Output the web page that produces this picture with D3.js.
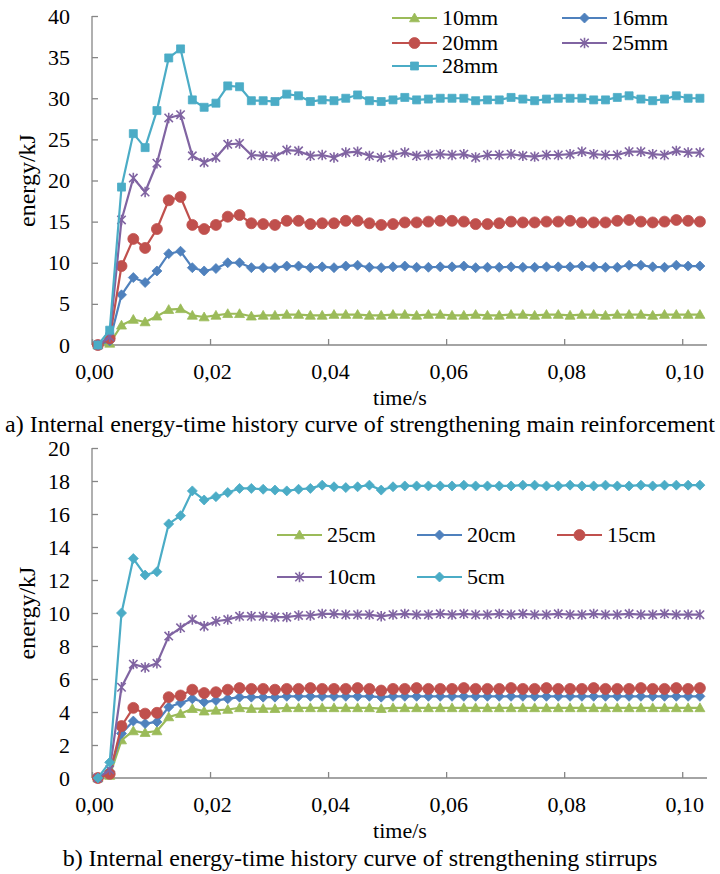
<!DOCTYPE html>
<html>
<head>
<meta charset="utf-8">
<script src="https://cdn.jsdelivr.net/npm/d3@7"></script>
<style>
  html, body { margin: 0; padding: 0; background: #fff; }
  svg { display: block; font-family: "Liberation Serif", "Times New Roman", serif; }
</style>
</head>
<body>
<svg id="chart" width="720" height="874"></svg>
<script>
// Sample times (s)
const time = [
  0.001, 0.003, 0.005, 0.007, 0.009, 0.011, 0.013, 0.015, 0.017, 0.019,
  0.021, 0.023, 0.025, 0.027, 0.029, 0.031, 0.033, 0.035, 0.037, 0.039,
  0.041, 0.043, 0.045, 0.047, 0.049, 0.051, 0.053, 0.055, 0.057, 0.059,
  0.061, 0.063, 0.065, 0.067, 0.069, 0.071, 0.073, 0.075, 0.077, 0.079,
  0.081, 0.083, 0.085, 0.087, 0.089, 0.091, 0.093, 0.095, 0.097, 0.099,
  0.101, 0.103
];

const xTickValues = [0, 0.02, 0.04, 0.06, 0.08, 0.10];
const xTickLabels = ["0,00", "0,02", "0,04", "0,06", "0,08", "0,10"];

// a) main reinforcement diameter — internal energy (kJ)
const mainNames = ["10mm", "16mm", "20mm", "25mm", "28mm"];
const main10 = [
  0, 0.2, 2.4, 3.1, 2.8, 3.5, 4.3, 4.4, 3.6, 3.4,
  3.6, 3.8, 3.8, 3.5, 3.6, 3.6, 3.7, 3.7, 3.6, 3.6,
  3.7, 3.7, 3.7, 3.6, 3.6, 3.7, 3.7, 3.6, 3.7, 3.7,
  3.6, 3.6, 3.7, 3.6, 3.6, 3.7, 3.7, 3.6, 3.7, 3.7,
  3.6, 3.7, 3.7, 3.6, 3.7, 3.7, 3.7, 3.6, 3.7, 3.7,
  3.7, 3.7
];
const main16 = [
  0, 0.5, 6.1, 8.2, 7.6, 9.0, 11.1, 11.4, 9.4, 9.0,
  9.3, 10.0, 10.0, 9.4, 9.4, 9.4, 9.6, 9.6, 9.4, 9.5,
  9.4, 9.6, 9.7, 9.45, 9.4, 9.5, 9.6, 9.45, 9.45, 9.5,
  9.5, 9.6, 9.4, 9.45, 9.45, 9.5, 9.45, 9.45, 9.5, 9.5,
  9.5, 9.6, 9.5, 9.45, 9.45, 9.7, 9.7, 9.5, 9.45, 9.7,
  9.6, 9.6
];
const main20 = [
  0, 0.8, 9.6, 12.9, 11.8, 14.1, 17.6, 18.0, 14.6, 14.1,
  14.6, 15.6, 15.8, 14.8, 14.7, 14.6, 15.1, 15.1, 14.7, 14.8,
  14.8, 15.1, 15.1, 14.8, 14.6, 14.7, 14.9, 14.9, 15.0, 15.1,
  15.1, 15.0, 14.7, 14.7, 14.8, 15.0, 14.9, 14.9, 15.0, 15.0,
  15.1, 14.9, 14.9, 14.9, 15.1, 15.2, 15.0, 14.9, 15.0, 15.2,
  15.1, 15.0
];
const main25 = [
  0, 1.0, 15.2, 20.3, 18.6, 22.1, 27.6, 28.0, 23.0, 22.2,
  22.8, 24.4, 24.5, 23.1, 23.0, 22.9, 23.7, 23.6, 23.0, 23.1,
  22.8, 23.4, 23.5, 23.0, 22.8, 23.1, 23.4, 23.0, 23.1, 23.2,
  23.1, 23.2, 22.8, 23.1, 23.1, 23.2, 23.0, 22.9, 23.1, 23.1,
  23.2, 23.5, 23.2, 23.1, 23.1, 23.5, 23.5, 23.2, 23.1, 23.6,
  23.4, 23.4
];
const main28 = [
  0, 1.8, 19.2, 25.7, 24.0, 28.5, 34.9, 36.0, 29.8, 28.9,
  29.4, 31.5, 31.4, 29.7, 29.7, 29.6, 30.5, 30.3, 29.6, 29.8,
  29.7, 30.0, 30.4, 29.7, 29.6, 29.8, 30.1, 29.8, 29.9, 30.0,
  30.0, 30.0, 29.7, 29.8, 29.8, 30.1, 29.9, 29.7, 29.9, 30.0,
  30.0, 30.0, 29.8, 29.8, 30.1, 30.3, 29.9, 29.7, 29.9, 30.3,
  30.0, 30.0
];

// b) stirrup spacing — internal energy (kJ)
const stirrupNames = ["25cm", "20cm", "15cm", "10cm", "5cm"];
const stir25 = [
  0, 0.15, 2.3, 2.85, 2.75, 2.85, 3.7, 3.9, 4.2, 4.05,
  4.1, 4.15, 4.25, 4.2, 4.2, 4.2, 4.25, 4.25, 4.25, 4.25,
  4.25, 4.25, 4.25, 4.25, 4.2, 4.25, 4.25, 4.25, 4.25, 4.25,
  4.25, 4.25, 4.25, 4.25, 4.25, 4.25, 4.25, 4.25, 4.25, 4.25,
  4.25, 4.25, 4.25, 4.25, 4.25, 4.25, 4.25, 4.25, 4.25, 4.25,
  4.25, 4.25
];
const stir20 = [
  0, 0.4, 2.7, 3.45, 3.3, 3.4, 4.3, 4.55, 4.8, 4.6,
  4.7, 4.8, 4.9, 4.9, 4.9, 4.9, 4.95, 4.95, 4.95, 4.95,
  4.95, 4.95, 4.95, 4.95, 4.9, 4.95, 4.95, 4.95, 4.95, 4.95,
  4.95, 4.95, 4.95, 4.95, 4.95, 4.95, 4.95, 4.95, 4.95, 4.95,
  4.95, 4.95, 4.95, 4.95, 4.95, 4.95, 4.95, 4.95, 4.95, 4.95,
  4.95, 4.95
];
const stir15 = [
  0, 0.25, 3.15, 4.25, 3.9, 3.95, 4.9, 5.0, 5.35, 5.15,
  5.2, 5.35, 5.45, 5.4, 5.4, 5.35, 5.4, 5.4, 5.45, 5.4,
  5.4, 5.4, 5.45, 5.4, 5.3, 5.4, 5.4, 5.45, 5.4, 5.4,
  5.4, 5.45, 5.4, 5.4, 5.4, 5.45, 5.4, 5.4, 5.45, 5.4,
  5.4, 5.4, 5.45, 5.4, 5.4, 5.4, 5.45, 5.4, 5.4, 5.45,
  5.4, 5.45
];
const stir10 = [
  0, 0.5, 5.5, 6.9, 6.7, 6.95, 8.6, 9.1, 9.6, 9.2,
  9.5, 9.6, 9.8, 9.8, 9.8, 9.75, 9.75, 9.85, 9.85, 9.95,
  9.95, 9.9, 9.9, 9.9, 9.8, 9.9, 9.95, 9.9, 9.9, 9.95,
  9.9, 9.95, 9.9, 9.9, 9.95, 9.9, 9.95, 9.9, 9.9, 9.95,
  9.9, 9.9, 9.95, 9.9, 9.9, 9.95, 9.9, 9.9, 9.95, 9.9,
  9.9, 9.9
];
const stir5 = [
  0, 0.95, 10.0, 13.3, 12.3, 12.5, 15.4, 15.9, 17.4, 16.85,
  17.05, 17.3, 17.55, 17.55, 17.5, 17.45, 17.4, 17.5, 17.55, 17.75,
  17.65, 17.6, 17.65, 17.75, 17.45, 17.65, 17.7, 17.7, 17.7, 17.7,
  17.7, 17.75, 17.7, 17.7, 17.7, 17.7, 17.75, 17.75, 17.7, 17.7,
  17.75, 17.7, 17.7, 17.75, 17.7, 17.7, 17.75, 17.7, 17.75, 17.75,
  17.75, 17.75
];

const COLORS = {
  green: "#9BBB59", blue: "#4F81BD", red: "#C0504D",
  purple: "#8064A2", cyan: "#4BACC6", axis: "#868686"
};

// Marker shapes as path strings centred on the origin
const MARKERS = {
  triangle: "M0,-5L5,3.8L-5,3.8Z",
  diamond: "M0,-5L5,0L0,5L-5,0Z",
  circle: d3.symbol(d3.symbolCircle, 95)(),
  square: "M-4,-4H4V4H-4Z",
  star: "M0,-5.2V5.2M-4.2,-4.2L4.2,4.2M-4.2,4.2L4.2,-4.2"
};

const svg = d3.select("#chart");
const FONT = 22;
const xScale = d3.scaleLinear().domain([0, 0.1042]).range([92, 707]);

function drawMarker(g, shape, color, cx, cy) {
  const p = g.append("path")
    .attr("d", MARKERS[shape])
    .attr("transform", `translate(${cx},${cy})`);
  if (shape === "star") {
    p.attr("fill", "none").attr("stroke", color).attr("stroke-width", 1.6);
  } else {
    p.attr("fill", color).attr("stroke", color).attr("stroke-width", 0.8);
  }
}

function drawPanel(cfg) {
  const g = svg.append("g");
  const y = d3.scaleLinear().domain(cfg.yDomain).range([cfg.bottom, cfg.top]);

  // y axis (ticks point into the plot)
  const yAxis = g.append("g")
    .attr("transform", `translate(${xScale(0)},0)`)
    .call(d3.axisLeft(y).tickValues(cfg.yTicks).tickSize(-6).tickSizeOuter(0).tickPadding(22));
  // x axis
  const xAxis = g.append("g")
    .attr("transform", `translate(0,${y(0)})`)
    .call(d3.axisBottom(xScale).tickValues(xTickValues)
      .tickFormat((d, i) => xTickLabels[i]).tickSize(-6).tickSizeOuter(0).tickPadding(18));

  [yAxis, xAxis].forEach(a => {
    a.select(".domain").attr("stroke", COLORS.axis).attr("stroke-width", 1.3);
    a.selectAll(".tick line").attr("stroke", COLORS.axis).attr("stroke-width", 1.3);
    a.selectAll("text").attr("fill", "#000")
      .style("font-size", FONT + "px").style("font-family", "Liberation Serif, Times New Roman, serif");
  });
  xAxis.selectAll(".tick text").attr("dx", 2);
  // axis lines span the full range
  xAxis.select(".domain").attr("d", `M${xScale.range()[0]},0H${xScale.range()[1]}`);
  yAxis.select(".domain").attr("d", `M0,${cfg.bottom}V${cfg.top}`);

  // axis titles
  g.append("text")
    .attr("transform", `translate(${cfg.yTitleX},${(cfg.top + cfg.bottom) / 2}) rotate(-90)`)
    .attr("text-anchor", "middle")
    .attr("dy", "0.35em")
    .style("font-size", "24px")
    .text("energy/kJ");
  g.append("text")
    .attr("x", 400).attr("y", cfg.bottom + 60)
    .attr("text-anchor", "middle")
    .style("font-size", FONT + "px")
    .text("time/s");

  // series
  const line = d3.line().x((d, i) => xScale(time[i])).y(d => y(d));
  cfg.series.forEach(s => {
    const sg = g.append("g");
    sg.append("path")
      .attr("d", line(s.values))
      .attr("fill", "none")
      .attr("stroke", s.color)
      .attr("stroke-width", 2.2)
      .attr("stroke-linejoin", "round");
    s.values.forEach((v, i) => drawMarker(sg, s.shape, s.color, xScale(time[i]), y(v)));
  });

  // legend
  cfg.series.forEach((s, i) => {
    const [lx, ly] = cfg.legendPos[i];
    const lg = g.append("g");
    lg.append("line")
      .attr("x1", lx).attr("x2", lx + 45).attr("y1", ly).attr("y2", ly)
      .attr("stroke", s.color).attr("stroke-width", 2.2);
    drawMarker(lg, s.shape, s.color, lx + 22.5, ly);
    lg.append("text")
      .attr("x", lx + 50).attr("y", ly).attr("dy", "0.33em")
      .style("font-size", FONT + "px")
      .text(s.name);
  });

  // caption
  g.append("text")
    .attr("x", 360).attr("y", cfg.captionY)
    .attr("text-anchor", "middle")
    .style("font-size", "24px")
    .text(cfg.caption);
}

drawPanel({
  top: 16, bottom: 345,
  yDomain: [0, 40],
  yTicks: [0, 5, 10, 15, 20, 25, 30, 35, 40],
  yTitleX: 27,
  captionY: 432,
  caption: "a) Internal energy-time history curve of strengthening main reinforcement",
  series: [
    { name: mainNames[0], values: main10, color: COLORS.green, shape: "triangle" },
    { name: mainNames[1], values: main16, color: COLORS.blue, shape: "diamond" },
    { name: mainNames[2], values: main20, color: COLORS.red, shape: "circle" },
    { name: mainNames[3], values: main25, color: COLORS.purple, shape: "star" },
    { name: mainNames[4], values: main28, color: COLORS.cyan, shape: "square" }
  ],
  legendPos: [[392, 18], [562, 18], [392, 43], [562, 43], [392, 66]]
});

drawPanel({
  top: 448, bottom: 778,
  yDomain: [0, 20],
  yTicks: [0, 2, 4, 6, 8, 10, 12, 14, 16, 18, 20],
  yTitleX: 27,
  captionY: 866,
  caption: "b) Internal energy-time history curve of strengthening stirrups",
  series: [
    { name: stirrupNames[0], values: stir25, color: COLORS.green, shape: "triangle" },
    { name: stirrupNames[1], values: stir20, color: COLORS.blue, shape: "diamond" },
    { name: stirrupNames[2], values: stir15, color: COLORS.red, shape: "circle" },
    { name: stirrupNames[3], values: stir10, color: COLORS.purple, shape: "star" },
    { name: stirrupNames[4], values: stir5, color: COLORS.cyan, shape: "diamond" }
  ],
  legendPos: [[277, 535], [417, 535], [557, 535], [277, 577], [417, 577]]
});
</script>
</body>
</html>
